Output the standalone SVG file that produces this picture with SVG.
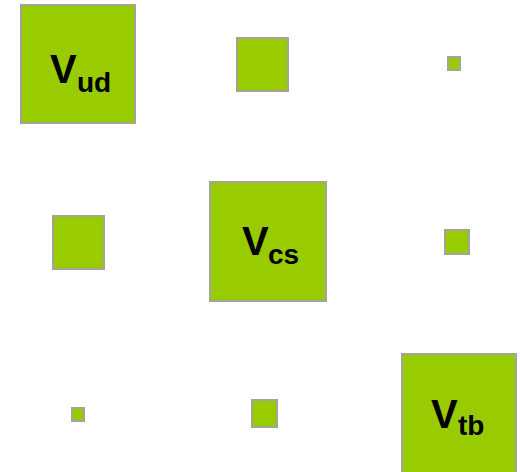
<svg xmlns="http://www.w3.org/2000/svg" width="520" height="472" viewBox="0 0 520 472">
<style>
.b{fill:#99cc00;stroke:#a3a39a;stroke-width:2}
.v{font-family:"Liberation Sans",Arial,sans-serif;font-weight:bold;font-size:40px;fill:#000}
.s{font-family:"Liberation Sans",Arial,sans-serif;font-weight:bold;font-size:28px;fill:#000}
</style>
<rect width="520" height="472" fill="#fff"/>
<g id="vud"><rect class="b" x="21" y="5" width="114" height="118"/><text class="v" x="50" y="83">V</text><text class="s" x="77" y="92">ud</text></g>
<g id="vus"><rect class="b" x="237" y="38" width="51" height="53"/></g>
<g id="vub"><rect class="b" x="448" y="57" width="12" height="13"/></g>
<g id="vcd"><rect class="b" x="53" y="216" width="51" height="53"/></g>
<g id="vcs"><rect class="b" x="210" y="182" width="116" height="119"/><text class="v" x="242" y="255">V</text><text class="s" x="268" y="264">cs</text></g>
<g id="vcb"><rect class="b" x="445" y="230" width="24" height="24"/></g>
<g id="vtd"><rect class="b" x="72" y="408" width="12" height="13"/></g>
<g id="vts"><rect class="b" x="252" y="400" width="25" height="27"/></g>
<g id="vtb"><rect class="b" x="402" y="354" width="114" height="122"/><text class="v" x="431" y="428">V</text><text class="s" x="458" y="435">tb</text></g>
<g id="connectors"></g>
</svg>
